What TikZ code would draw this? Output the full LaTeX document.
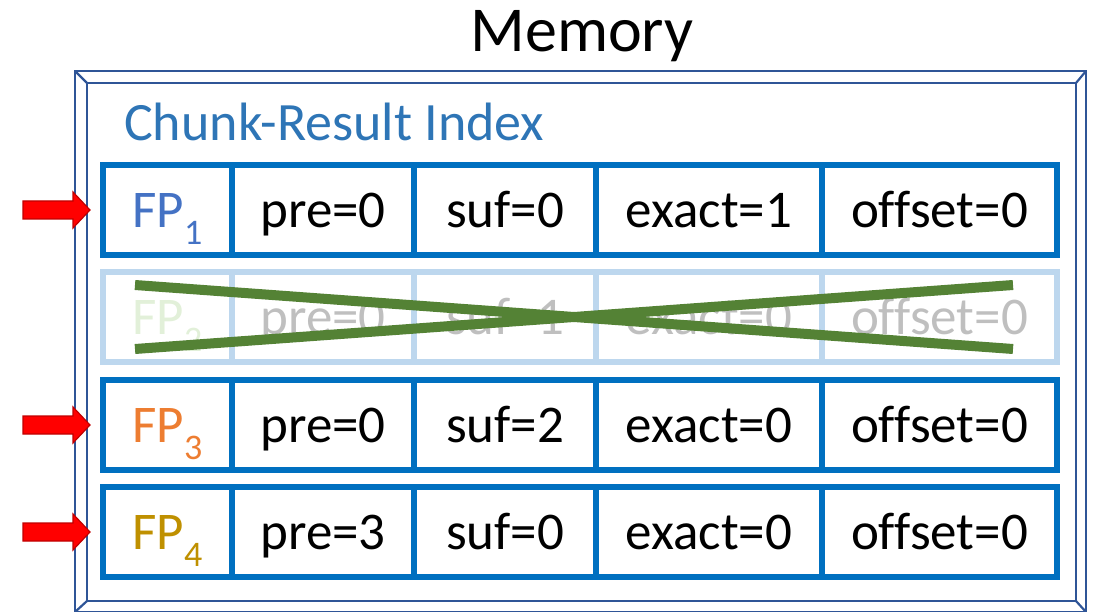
\documentclass[tikz,border=0pt]{standalone}
\usepackage{fontspec}
\setmainfont{Carlito}[Ligatures=NoCommon]
\definecolor{frameblue}{HTML}{2F5597}
\definecolor{cellblue}{HTML}{0070C0}
\definecolor{paleblue}{HTML}{BDD7EE}
\definecolor{titleblue}{HTML}{2E75B6}
\definecolor{fpblue}{HTML}{4472C4}
\definecolor{fporange}{HTML}{ED7D31}
\definecolor{fpgold}{HTML}{BF9000}
\definecolor{fppale}{HTML}{E2F0D9}
\definecolor{fadegray}{HTML}{BFBFBF}
\definecolor{crossgreen}{HTML}{548235}
\definecolor{arrowred}{HTML}{FF0000}
\definecolor{arrowedge}{HTML}{C00000}
\newcommand{\fp}[1]{FP\raisebox{-0.32em}{\fontsize{36}{36}\selectfont #1}}
\begin{document}
\begin{tikzpicture}[x=1pt,y=-1pt,
  cell/.style={draw=cellblue,line width=6pt,minimum height=90pt,inner sep=0pt,outer sep=0pt,
    text height=35pt,text depth=0pt,
    font=\fontsize{53}{53}\selectfont,anchor=north west},
  pale/.style={cell,draw=paleblue,text=fadegray},
  redarrow/.style={fill=arrowred,draw=arrowedge,line width=1.2pt},
  frameline/.style={draw=frameblue,line width=2.2pt}]
\useasboundingbox (0,0) rectangle (1099,612);
% picture-frame border
\draw[frameline] (75,71) rectangle (1086,612);
\draw[frameline] (87,83) rectangle (1076,601);
\draw[frameline] (75,71) -- (87,83);
\draw[frameline] (1086,71) -- (1076,83);
\draw[frameline] (75,612) -- (87,601);
\draw[frameline] (1086,612) -- (1076,601);
% titles
\node[font=\fontsize{64}{64}\selectfont,anchor=base] (mem) at (582,52) {Memory};
\node[font=\fontsize{54}{54}\selectfont,text=titleblue,anchor=base west,inner sep=0pt] (cri) at (124,141) {Chunk-Result Index};
% rows of the index: columns at 103,232,414,596,822,1057
\foreach \r/\y/\st/\fpc/\n/\pre/\suf/\ex in {
  1/165/cell/fpblue/1/0/0/1,
  2/272/pale/fppale/2/0/1/0,
  3/380/cell/fporange/3/0/2/0,
  4/487/cell/fpgold/4/3/0/0}{
  \node[\st,minimum width=129pt,text=\fpc] (fp\r) at (103,\y) {\fp{\n}};
  \node[\st,minimum width=182pt] (pre\r) at (232,\y) {pre=\pre};
  \node[\st,minimum width=182pt] (suf\r) at (414,\y) {suf=\suf};
  \node[\st,minimum width=226pt] (ex\r) at (596,\y) {exact=\ex};
  \node[\st,minimum width=235pt] (off\r) at (822,\y) {offset=0};
}
% crossed-out row
\draw[crossgreen,line width=10pt] (135,285) -- (1013,349);
\draw[crossgreen,line width=10pt] (135,349) -- (1013,285);
% pointer arrows
\foreach \r in {1,3,4}{
  \path (fp\r.west) ++(-13,0) coordinate (tip\r);
  \draw[redarrow] (tip\r) -- ++(-17,-18) -- ++(0,9) -- ++(-50,0) -- ++(0,18)
    -- ++(50,0) -- ++(0,9) -- cycle;
}
\end{tikzpicture}
\end{document}
